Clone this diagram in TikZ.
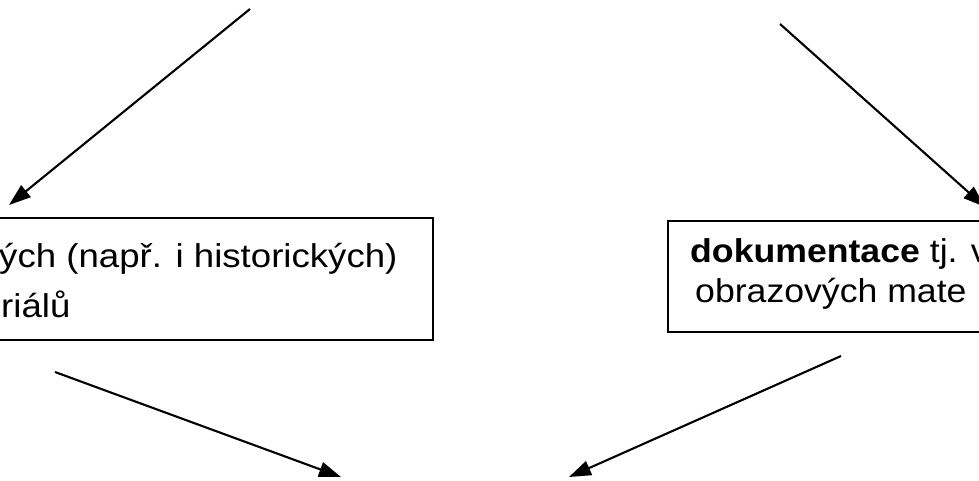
\documentclass[tikz,border=0pt]{standalone}
\usepackage{graphicx}
\usepackage{fontspec}
\setmainfont{Liberation Sans}
\usetikzlibrary{arrows.meta}
\newcommand{\wide}[2][1.11]{\scalebox{#1}[1]{#2}}
\tikzset{
  box/.style={draw=black, line width=2pt, rectangle, inner sep=0pt},
  txt/.style={inner sep=0pt, anchor=base west, font=\fontsize{33}{39}\selectfont},
  arr/.style={draw=black, line width=2.1pt, -{Triangle[length=22pt,width=15pt]}}
}

\begin{document}
\begin{tikzpicture}[x=1pt,y=-1pt]
\useasboundingbox (0,0) rectangle (979,480);
\clip (0,0) rectangle (979,480);
% boxes
\node [box, minimum width=460pt, minimum height=122pt, anchor=north east] (lbox) at (434,217) {};
\node [box, minimum width=340pt, minimum height=111pt, anchor=north west] (rbox) at (667,220) {};
\node [txt] (ltop) at (-1,267) {\wide{ých (např. i historických)}};
\node [txt] (lbot) at (1,317) {\wide{riálů}};
\node [txt] (rtop) at (690,262) {\wide[1.08]{\textbf{dokumentace} tj. v}};
\node [txt] (rbot) at (695,302) {\wide[1.08]{obrazových mate}};
% free ends
\coordinate (a1) at (250,9);
\coordinate (a2) at (9,205);
\coordinate (b1) at (780,24);
\coordinate (b2) at (985,207);
\coordinate (c1) at (55,372);
\coordinate (c2) at (341,477);
\coordinate (d1) at (841,356);
\coordinate (d2) at (569,477);
\draw [arr] (a1) -- (a2);
\draw [arr] (b1) -- (b2);
\draw [arr] (c1) -- (c2);
\draw [arr] (d1) -- (d2);
\end{tikzpicture}
\end{document}
